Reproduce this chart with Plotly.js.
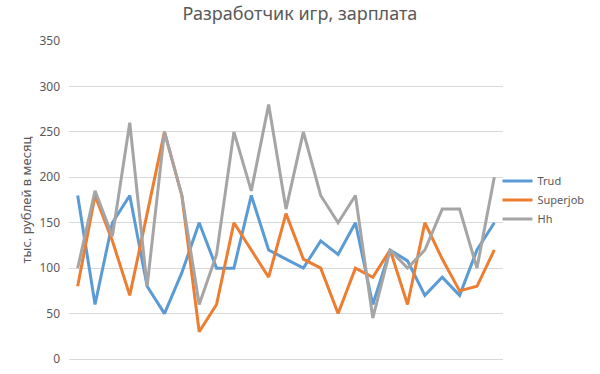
<!DOCTYPE html>
<html>
<head>
<meta charset="utf-8">
<script src="https://cdn.plot.ly/plotly-3.0.1.min.js"></script>
<style>html,body{margin:0;padding:0;background:#fff;}#chart{width:600px;height:374px;}</style>
</head>
<body>
<div id="chart"></div>
<script>
const categories = ["1","2","3","4","5","6","7","8","9","10","11","12","13","14","15","16","17","18","19","20","21","22","23","24","25"];
const trud     = [180, 60,150,180, 80, 50, 95,150,100,100,180,120,110,100,130,115,150, 60,120,108, 70, 90, 70,120,150];
const superjob = [ 80,180,130, 70,160,250,180, 30, 60,150,120, 90,160,110,100, 50,100, 90,120, 60,150,110, 75, 80,120];
const hh       = [100,185,135,260, 80,250,180, 60,115,250,185,280,165,250,180,150,180, 45,120,100,120,165,165,100,200];
const yTicks = [0,50,100,150,200,250,300,350];

const FONT = "Noto Sans, Open Sans, sans-serif";
const mk = (name, y, color) => ({
  type: "scatter", mode: "lines", name: name, x: categories, y: y,
  line: {color: color, width: 3, shape: "linear"}, hoverinfo: "skip"
});
const data = [
  mk("Trud", trud, "#5B9BD5"),
  mk("Superjob", superjob, "#ED7D31"),
  mk("Hh", hh, "#A5A5A5")
];
const layout = {
  width: 600, height: 374,
  margin: {l: 69, r: 96, t: 40.5, b: 14.7, pad: 0},
  paper_bgcolor: "#ffffff", plot_bgcolor: "#ffffff",
  font: {family: FONT, color: "#595959", size: 12},
  title: {text: "Разработчик игр, зарплата", x: 0.5, xref: "container", y: 1 - 14/374, yref: "container", yanchor: "middle", xanchor: "center",
          font: {family: FONT, size: 18, color: "#595959"}},
  xaxis: {type: "category", range: [-0.5, 24.5], showticklabels: false, showgrid: false, zeroline: false, showline: false, ticks: "", fixedrange: true},
  yaxis: {range: [0, 350], tickvals: yTicks, ticktext: yTicks.map(String), showgrid: true, gridcolor: "#D9D9D9", gridwidth: 1,
          zeroline: true, zerolinecolor: "#D9D9D9", zerolinewidth: 1, showline: false, ticks: "", ticklabelstandoff: 8,
          tickfont: {family: FONT, size: 12, color: "#595959"},
          title: {text: "тыс. рублей в месяц", standoff: 4, font: {family: FONT, size: 13, color: "#595959"}}, automargin: false, fixedrange: true},
  showlegend: true,
  legend: {x: 0.985, xanchor: "left", y: 0.5, yanchor: "middle", font: {family: FONT, size: 11, color: "#595959"}, bgcolor: "rgba(0,0,0,0)", borderwidth: 0, itemwidth: 30, tracegroupgap: 0}
};
Plotly.newPlot("chart", data, layout, {displayModeBar: false, staticPlot: true});
</script>
</body>
</html>
